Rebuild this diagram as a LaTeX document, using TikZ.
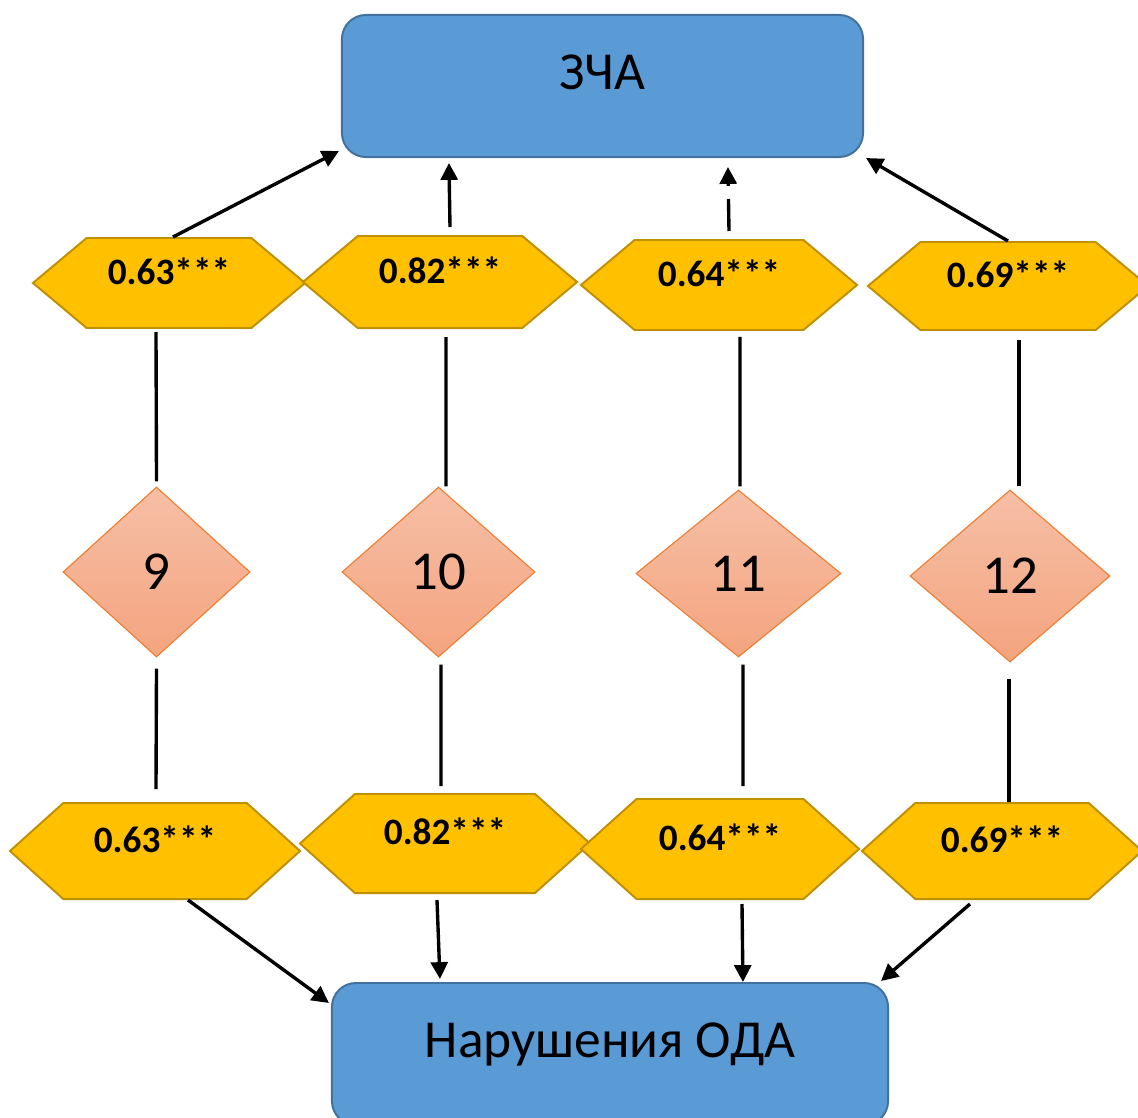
\documentclass[tikz,border=0pt]{standalone}
\usepackage{fontspec}
\setmainfont{Carlito}
\usetikzlibrary{shapes.geometric, shapes.symbols, calc, arrows.meta}

\definecolor{boxblue}{HTML}{5B9BD5}
\definecolor{boxline}{HTML}{41719C}
\definecolor{hexgold}{HTML}{FFC000}
\definecolor{hexline}{HTML}{BF9000}
\definecolor{diatop}{HTML}{F6BFA6}
\definecolor{diabot}{HTML}{F4A47F}
\definecolor{dialine}{HTML}{ED7D31}

\begin{document}
\begin{tikzpicture}[
x=0.025cm, y=-0.025cm,
>={Triangle[length=12pt, width=12pt]},
bigbox/.style={rectangle, rounded corners=0.6cm, draw=boxline, line width=1.4pt, fill=boxblue, minimum height=3.55cm, text height=0.95cm, text depth=0.8cm, font=\fontsize{38}{42}\selectfont},
coef/.style={signal, signal to=east and west, signal pointer angle=80, draw=hexline, line width=1.4pt, fill=hexgold, minimum height=2.25cm, text height=0.62cm, text depth=0.56cm, font=\fontsize{26.5}{30}\selectfont\bfseries},
numbox/.style={diamond, draw=dialine, line width=0.8pt, top color=diatop, bottom color=diabot, font=\fontsize{39}{42}\selectfont},
conn/.style={line width=2.4pt}
]
\useasboundingbox (0,0) rectangle (1138,1118);
%Nodes
\node[bigbox, minimum width=13.025cm]	(zcha)	at (602.5,86)		{ЗЧА};
\node[bigbox, minimum width=13.9cm]		(oda)	at (610,1054)		{Нарушения ОДА};

\node[coef, minimum width=6.8cm]							(h1)	at (169,283)	{0.63***};
\node[coef, minimum width=6.85cm, minimum height=2.3cm]		(h2)	at (440,282)	{0.82***};
\node[coef, minimum width=6.9cm]							(h3)	at (719,285)	{0.64***};
\node[coef, minimum width=7cm, minimum height=2.2cm]		(h4)	at (1008,286)	{0.69***};

\node[numbox, minimum width=4.675cm, minimum height=4.25cm]		(d1)	at (156.5,572)	{9};
\node[numbox, minimum width=4.825cm, minimum height=4.25cm]		(d2)	at (438.5,572)	{10};
\node[numbox, minimum width=5.125cm, minimum height=4.175cm]	(d3)	at (738.5,573.5)	{11};
\node[numbox, minimum width=5cm, minimum height=4.3cm]			(d4)	at (1010,576)	{12};

\node[coef, signal pointer angle=84, minimum width=7.25cm, minimum height=2.4cm]	(g1)	at (155,851)	{0.63***};
\node[coef, signal pointer angle=84, minimum width=7.25cm, minimum height=2.475cm]	(g2)	at (445,843.5)	{0.82***};
\node[coef, signal pointer angle=84, minimum width=6.95cm, minimum height=2.5cm]	(g3)	at (720,849)	{0.64***};
\node[coef, signal pointer angle=84, minimum width=7cm, minimum height=2.4cm]		(g4)	at (1002,851)	{0.69***};

%Lines
\draw[conn, ->] ($(h1.north)+(4,0)$)		--	($(zcha.south west)+(-2,-7)$);
\draw[conn, ->] ($(h2.north)+(10,-8)$)		--	($(zcha.south west)+(108,5)$);
\draw[conn, ->, dash pattern={on 0.8cm off 0.33cm}] ($(h3.north)+(10,-8)$) -- ($(zcha.south west)+(387,9)$);
\draw[conn, ->] (h4.north)					--	($(zcha.south east)+(2,0)$);

\draw[conn] ($(h1.south)+(-13,3)$)		--	($(d1.north)+(0,-5)$);
\draw[conn] ($(h2.south)+(6,8)$)		--	($(d2.north)+(7.5,0)$);
\draw[conn] ($(h3.south)+(21,6)$)		--	($(d3.north)+(1.5,-3)$);
\draw[conn] ($(h4.south)+(11,9)$)		--	($(d4.north)+(9,-3)$);
\draw[conn] ($(d1.south)+(0,11)$)		--	($(g1.north)+(1,-13)$);
\draw[conn] ($(d2.south)+(2.5,7)$)		--	($(g2.north)+(-4,-7)$);
\draw[conn] ($(d3.south)+(4.5,7)$)		--	($(g3.north)+(23,-12)$);
\draw[conn] ($(d4.south)+(-1,16)$)		--	($(g4.north)+(7,0)$);

\draw[conn, ->] ($(g1.south)+(33,0)$)	--	($(oda.north west)+(-2,21)$);
\draw[conn, ->] ($(g2.south)+(-8,6)$)	--	($(oda.north west)+(109,-3)$);
\draw[conn, ->] ($(g3.south)+(22,4)$)	--	($(oda.north west)+(412,0)$);
\draw[conn, ->] ($(g4.south)+(-32,4)$)	--	($(oda.north east)+(-8,-1)$);

\end{tikzpicture}
\end{document}
